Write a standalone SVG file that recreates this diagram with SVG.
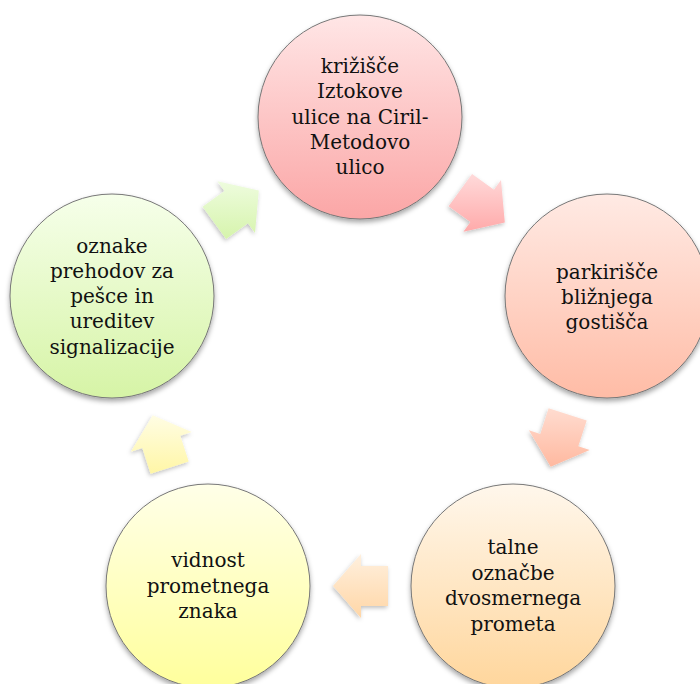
<svg xmlns="http://www.w3.org/2000/svg" width="700" height="684" viewBox="0 0 700 684">
  <defs>
    <filter id="sh" x="-20%" y="-20%" width="140%" height="150%">
      <feDropShadow dx="0" dy="3" stdDeviation="2.5" flood-color="#000" flood-opacity="0.35"/>
    </filter>
    <filter id="sha" x="-30%" y="-30%" width="160%" height="160%">
      <feDropShadow dx="-1" dy="2" stdDeviation="2" flood-color="#000" flood-opacity="0.25"/>
    </filter>
    <linearGradient id="gTop" x1="0" y1="0" x2="0" y2="1">
      <stop offset="0" stop-color="#FFE6E6"/>
      <stop offset="1" stop-color="#FBA6A6"/>
    </linearGradient>
    <linearGradient id="gRight" x1="0" y1="0" x2="0" y2="1">
      <stop offset="0" stop-color="#FFEAE4"/>
      <stop offset="1" stop-color="#FFBCA6"/>
    </linearGradient>
    <linearGradient id="gBR" x1="0" y1="0" x2="0" y2="1">
      <stop offset="0" stop-color="#FFF7EC"/>
      <stop offset="1" stop-color="#FFD69C"/>
    </linearGradient>
    <linearGradient id="gBL" x1="0" y1="0" x2="0" y2="1">
      <stop offset="0" stop-color="#FFFFE8"/>
      <stop offset="1" stop-color="#FFFF9C"/>
    </linearGradient>
    <linearGradient id="gLeft" x1="0" y1="0" x2="0" y2="1">
      <stop offset="0" stop-color="#F6FFEA"/>
      <stop offset="1" stop-color="#D6F4A6"/>
    </linearGradient>
    <linearGradient id="aPink" x1="0" y1="0" x2="0" y2="1">
      <stop offset="0" stop-color="#FFDADA"/>
      <stop offset="1" stop-color="#FFAAAA"/>
    </linearGradient>
    <linearGradient id="aSalmon" x1="0" y1="0" x2="0" y2="1">
      <stop offset="0" stop-color="#FFDCD0"/>
      <stop offset="1" stop-color="#FFB9A0"/>
    </linearGradient>
    <linearGradient id="aPeach" x1="0" y1="0" x2="0" y2="1">
      <stop offset="0" stop-color="#FFF0DE"/>
      <stop offset="1" stop-color="#FFD6A6"/>
    </linearGradient>
    <linearGradient id="aYellow" x1="0" y1="0" x2="0" y2="1">
      <stop offset="0" stop-color="#FFFDE4"/>
      <stop offset="1" stop-color="#FFF6A6"/>
    </linearGradient>
    <linearGradient id="aGreen" x1="0" y1="0" x2="0" y2="1">
      <stop offset="0" stop-color="#EEFCDE"/>
      <stop offset="1" stop-color="#D6F4AC"/>
    </linearGradient>
  </defs>
  <style>
    .node circle { stroke: #777; stroke-width: 1; filter: url(#sh); }
    .node text { font-family: "DejaVu Serif", "Liberation Serif", serif; font-size: 20px; fill: #111; text-anchor: middle; }
    .arr polygon { filter: url(#sha); stroke: none; }
  </style>
  <rect width="700" height="684" fill="#ffffff"/>

  <g id="connectors" class="arr">
    <polygon fill="url(#aPink)" points="472.1,173.9 494.0,189.7 501.0,180.0 504.8,222.4 463.4,231.8 470.4,222.1 448.6,206.2"/>
    <polygon fill="url(#aSalmon)" points="586.7,420.6 578.3,446.2 589.7,449.9 550.7,466.7 528.9,430.2 540.3,433.9 548.6,408.2"/>
    <polygon fill="url(#aPeach)" points="388,606 361,606 361,618 333,586 361,554 361,566 388,566"/>
    <polygon fill="url(#aYellow)" points="150.6,473.8 142.3,448.1 130.9,451.8 152.7,415.3 191.7,432.1 180.3,435.8 188.7,461.5"/>
    <polygon fill="url(#aGreen)" points="202.6,206.8 224.4,190.9 217.4,181.2 258.8,190.6 255.0,233.0 248.0,223.3 226.1,239.1"/>
  </g>

  <g id="node-top" class="node">
    <circle cx="360" cy="117" r="102" fill="url(#gTop)"/>
    <text x="360" y="73">križišče</text>
    <text x="360" y="98.3">Iztokove</text>
    <text x="360" y="123.6">ulice na Ciril-</text>
    <text x="360" y="148.9">Metodovo</text>
    <text x="360" y="174.2">ulico</text>
  </g>

  <g id="node-right" class="node">
    <circle cx="607" cy="296" r="102" fill="url(#gRight)"/>
    <text x="607" y="279">parkirišče</text>
    <text x="607" y="304">bližnjega</text>
    <text x="607" y="329">gostišča</text>
  </g>

  <g id="node-bottom-right" class="node">
    <circle cx="513" cy="586" r="102" fill="url(#gBR)"/>
    <text x="513" y="554">talne</text>
    <text x="513" y="579.5">označbe</text>
    <text x="513" y="605">dvosmernega</text>
    <text x="513" y="630.5">prometa</text>
  </g>

  <g id="node-bottom-left" class="node">
    <circle cx="208" cy="586" r="102" fill="url(#gBL)"/>
    <text x="208" y="567">vidnost</text>
    <text x="208" y="592.5">prometnega</text>
    <text x="208" y="618">znaka</text>
  </g>

  <g id="node-left" class="node">
    <circle cx="112" cy="296" r="102" fill="url(#gLeft)"/>
    <text x="112" y="252.5">oznake</text>
    <text x="112" y="277.8">prehodov za</text>
    <text x="112" y="303.1">pešce in</text>
    <text x="112" y="328.4">ureditev</text>
    <text x="112" y="353.7">signalizacije</text>
  </g>
</svg>
